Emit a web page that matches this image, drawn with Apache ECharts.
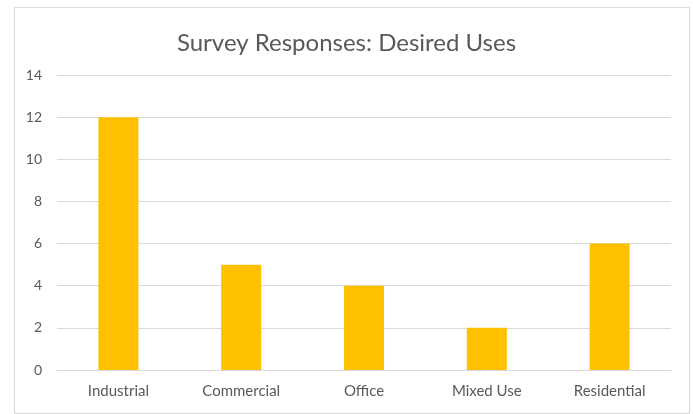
<!DOCTYPE html>
<html><head><meta charset="utf-8">
<script src="https://cdn.jsdelivr.net/npm/echarts@6/dist/echarts.min.js"></script>
<style>html,body{margin:0;padding:0;background:#fff}#c{width:693px;height:414px}</style>
</head><body><div id="c"></div>
<script>
const categories = ['Industrial', 'Commercial', 'Office', 'Mixed Use', 'Residential'];
const responses = [12, 5, 4, 2, 6];
const titleText = 'Survey Responses: Desired Uses';

const chart = echarts.init(document.getElementById('c'), null, {renderer: 'canvas'});
const fontFam = 'Lato, "Open Sans", sans-serif';
chart.setOption({
  animation: false,
  backgroundColor: '#fff',
  graphic: [{
    type: 'rect', left: 12, top: 5, silent: true,
    shape: {x: 0.5, y: 0.5, width: 675, height: 406},
    style: {fill: 'none', stroke: '#d9d9d9', lineWidth: 1}
  }],
  title: {
    text: titleText, left: 'center', top: 26,
    textStyle: {fontFamily: fontFam, fontWeight: 'normal', fontSize: 24, color: '#595959'}
  },
  grid: {left: 57, right: 22, top: 75, bottom: 44, containLabel: false},
  xAxis: {
    type: 'category', data: categories,
    axisLine: {show: true, lineStyle: {color: '#d9d9d9', width: 1}},
    axisTick: {show: false},
    axisLabel: {fontFamily: fontFam, fontSize: 15, color: '#595959', margin: 14}
  },
  yAxis: {
    type: 'value', min: 0, max: 14, interval: 2,
    axisLine: {show: false}, axisTick: {show: false},
    splitLine: {lineStyle: {color: '#d9d9d9', width: 1}},
    axisLabel: {fontFamily: fontFam, fontSize: 14, color: '#595959', margin: 15}
  },
  series: [{
    type: 'bar', data: responses, barWidth: 40,
    itemStyle: {color: '#FFC000'}
  }]
});
</script></body></html>
